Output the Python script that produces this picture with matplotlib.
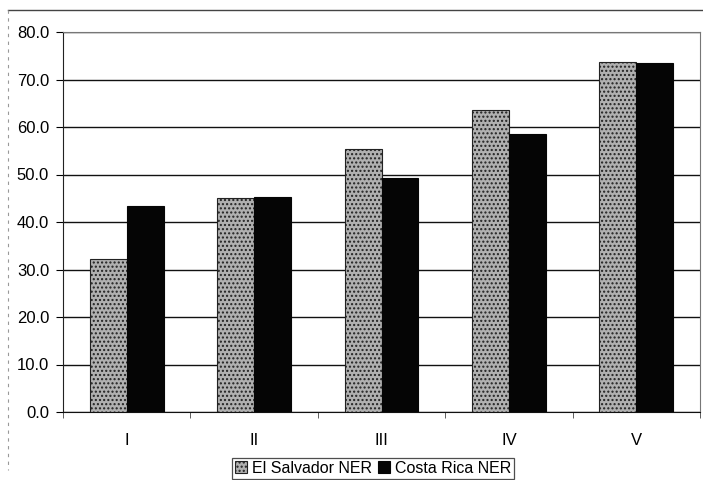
import numpy as np
import matplotlib.pyplot as plt
from matplotlib.lines import Line2D

plt.rcParams['font.family'] = ['Liberation Sans', 'DejaVu Sans']
plt.rcParams['hatch.color'] = '#4a4a4a'

categories = ['I', 'II', 'III', 'IV', 'V']
el_salvador = [32.2, 45.1, 55.4, 63.6, 73.7]
costa_rica = [43.3, 45.3, 49.3, 58.6, 73.5]
y_ticks = [0, 10, 20, 30, 40, 50, 60, 70, 80]

fig = plt.figure(figsize=(7.03, 4.8), dpi=100)
ax = fig.add_axes([63 / 703, 68 / 480, 637 / 703, 380 / 480])

x = np.arange(len(categories))
w = 0.29
ax.bar(x - w / 2, el_salvador, w, color='#b0b0b0', edgecolor='#222222',
       hatch='....', linewidth=0.8, label='El Salvador NER', zorder=3)
ax.bar(x + w / 2, costa_rica, w, color='#050505', edgecolor='#050505',
       linewidth=0.8, label='Costa Rica NER', zorder=3)

ax.set_xlim(-0.5, len(categories) - 0.5)
ax.set_ylim(0, 80)
ax.set_yticks(y_ticks)
ax.set_yticklabels(['%.1f' % v for v in y_ticks], fontsize=12)
ax.set_xticks(x)
ax.set_xticklabels(categories, fontsize=12)
ax.set_xticks(np.arange(len(categories) + 1) - 0.5, minor=True)
ax.tick_params(axis='x', which='major', length=0, pad=15)
ax.tick_params(axis='x', which='minor', length=4, color='#444444')
ax.tick_params(axis='y', length=5, pad=5)

ax.yaxis.grid(True, color='#111111', linewidth=1.0, zorder=0)
for side in ['top', 'right']:
    ax.spines[side].set_color('#777777')
    ax.spines[side].set_linestyle((0, (2, 1)))
ax.spines['left'].set_color('#222222')
ax.spines['bottom'].set_color('#111111')

leg = ax.legend(loc='lower center', bbox_to_anchor=(373 / 703, 1 / 480),
                bbox_transform=fig.transFigure, ncol=2, frameon=True,
                fancybox=False, edgecolor='#222222', fontsize=11.5,
                handlelength=0.75, handleheight=0.75, handletextpad=0.3,
                columnspacing=0.4, borderpad=0.2, borderaxespad=0)
leg.get_frame().set_linewidth(0.9)

# scanned page frame
fig.add_artist(Line2D([8 / 703, 1], [1 - 10 / 480, 1 - 10 / 480],
                      transform=fig.transFigure, color='#444444', linewidth=1.0))
fig.add_artist(Line2D([8 / 703, 8 / 703], [1 - 10 / 480, 1 - 470 / 480],
                      transform=fig.transFigure, color='#999999',
                      linewidth=0.8, linestyle=(0, (3, 4))))

fig.savefig('out.png', dpi=100)
